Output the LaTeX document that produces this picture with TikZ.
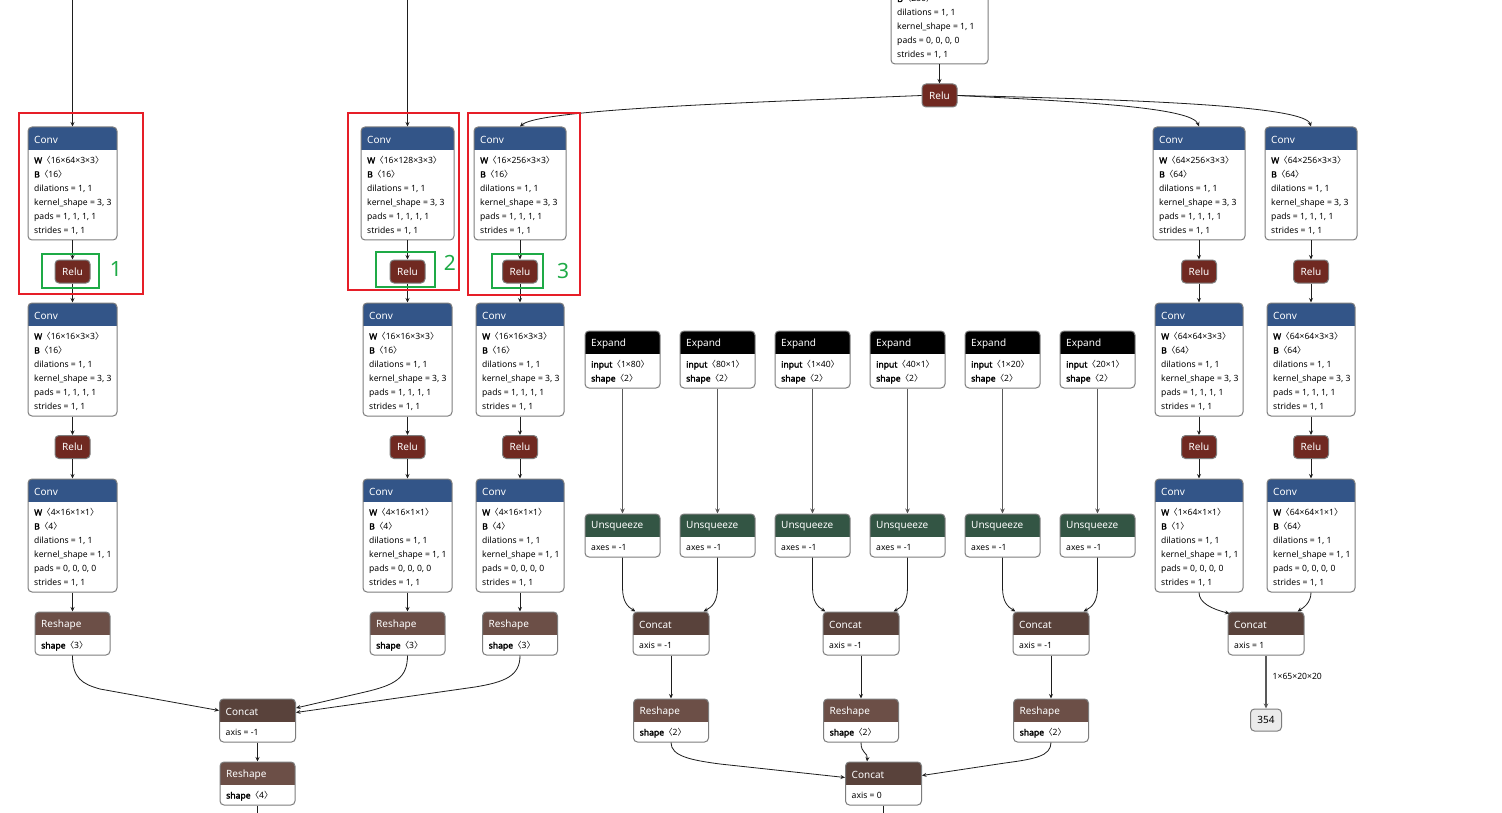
\documentclass[tikz,border=0pt]{standalone}
\usepackage{fontspec}
\setmainfont{Noto Sans}
\newfontfamily\cjk{Noto Sans CJK SC}
\newfontfamily\fbold{Noto Sans}[FakeBold=2.2]
\usetikzlibrary{fit,calc,arrows.meta}
\definecolor{convc}{RGB}{51,85,136}
\definecolor{reluc}{RGB}{112,41,33}
\definecolor{reshc}{RGB}{108,79,71}
\definecolor{catc}{RGB}{89,66,59}
\definecolor{unsqc}{RGB}{51,85,68}
\definecolor{boxb}{RGB}{125,125,125}
\definecolor{edgec}{RGB}{30,30,30}
\definecolor{redb}{RGB}{230,30,40}
\definecolor{greenb}{RGB}{30,170,70}
\tikzset{
  opbox/.style={draw=boxb, line width=1pt, rounded corners=4pt, inner sep=0pt},
  ttl/.style={anchor=west, text=white, inner sep=0pt, font=\fontsize{10}{11}\selectfont},
  atr/.style={anchor=west, inner sep=0pt, text height=6pt, text depth=2pt, font=\fontsize{8.6}{9}\selectfont},
  relu/.style={draw=boxb, line width=1pt, fill=reluc, rounded corners=4pt, text=white, minimum width=35pt, minimum height=23pt, inner sep=0pt, font=\fontsize{10}{11}\selectfont},
  edge/.style={draw=edgec, line width=0.8pt, -{Stealth[length=4.5pt,width=4pt]}},
  plainedge/.style={draw=edgec, line width=0.8pt},
  gedge/.style={draw=black!65, line width=1.3pt, -{Stealth[length=5pt,width=4.5pt]}},
  redbox/.style={draw=redb, line width=1.6pt},
  greenbox/.style={draw=greenb, line width=1.4pt},
  num/.style={text=greenb, inner sep=0pt, font=\fontsize{21}{22}\selectfont},
  lbl/.style={anchor=west, inner sep=0pt, font=\fontsize{8.6}{9}\selectfont},
}
\newcommand{\br}[1]{{\cjk 〈}#1{\cjk 〉}}
\newcommand{\bk}[1]{{\fbold #1}}
\newcommand{\opnode}[7]{%
  \begin{scope}
    \clip[rounded corners=4pt] (#2,#3) rectangle (#4,#5);
    \fill[white] (#2,#3) rectangle (#4,#5);
    \fill[#6] (#2,#3) rectangle (#4,#3+23);
  \end{scope}
  \node[opbox, fit={(#2,#3) (#4,#5)}] (#1) {};
  \node[ttl] at (#2+6,#3+12.5) {#7};
}
\newcommand{\attrs}[3]{%
  \foreach \attrline [count=\ai] in {#3} {
    \node[atr] at (#1+6, #2+34.5+14*\ai-14) {\attrline};
  }
}
\newcommand{\convnode}[8]{%
  \opnode{#1}{#2}{#3}{#4}{#3+113}{convc}{Conv}%
  \attrs{#2}{#3}{{\bk{W}\br{#5}},{\bk{B}\br{#6}},{dilations = 1, 1},{kernel\_shape = #7},{pads = #8},{strides = 1, 1}}%
}
\newcommand{\expnode}[3]{%
  \opnode{#1}{#2}{331}{#2+75}{388}{black}{Expand}%
  \attrs{#2}{331}{{\bk{input}\br{#3}},{\bk{shape}\br{2}}}%
}
\newcommand{\unsqnode}[2]{%
  \opnode{#1}{#2}{514}{#2+75}{557}{unsqc}{Unsqueeze}%
  \attrs{#2}{514}{{axes = -1}}%
}
\newcommand{\catnode}[4]{%
  \opnode{#1}{#2}{#3}{#2+76}{#3+43}{catc}{Concat}%
  \attrs{#2}{#3}{{axis = #4}}%
}
\newcommand{\rsnode}[4]{%
  \opnode{#1}{#2}{#3}{#2+75}{#3+43}{reshc}{Reshape}%
  \attrs{#2}{#3}{{\bk{shape}\br{#4}}}%
}
\begin{document}
\begin{tikzpicture}[x=1pt,y=-1pt]
\useasboundingbox (0,0) rectangle (1502,813);
\clip (0,0) rectangle (1502,813);
\fill[white] (0,0) rectangle (1502,813);

% top partial conv
\opnode{cTop}{891}{-48}{988}{64}{convc}{Conv}
\attrs{891}{-34.5}{{\bk{B}\br{256}},{dilations = 1, 1},{kernel\_shape = 1, 1},{pads = 0, 0, 0, 0},{strides = 1, 1}}
\node[relu] (rTop) at (939.5,95.5) {Relu};

% column A
\convnode{cA1}{28}{127}{117}{16×64×3×3}{16}{3, 3}{1, 1, 1, 1}
\node[relu] (rA1) at (72.5,271.5) {Relu};
\convnode{cA2}{28}{303}{117}{16×16×3×3}{16}{3, 3}{1, 1, 1, 1}
\node[relu] (rA2) at (72.5,447) {Relu};
\convnode{cA3}{28}{479}{117}{4×16×1×1}{4}{1, 1}{0, 0, 0, 0}
\rsnode{sA}{35}{612}{3}

% column B
\convnode{cB1}{361}{127}{454}{16×128×3×3}{16}{3, 3}{1, 1, 1, 1}
\node[relu] (rB1) at (407.5,271.5) {Relu};
\convnode{cB2}{363}{303}{452}{16×16×3×3}{16}{3, 3}{1, 1, 1, 1}
\node[relu] (rB2) at (407.5,447) {Relu};
\convnode{cB3}{363}{479}{452}{4×16×1×1}{4}{1, 1}{0, 0, 0, 0}
\rsnode{sB}{370}{612}{3}

% column C
\convnode{cC1}{474}{127}{566}{16×256×3×3}{16}{3, 3}{1, 1, 1, 1}
\node[relu] (rC1) at (520,271.5) {Relu};
\convnode{cC2}{476}{303}{564}{16×16×3×3}{16}{3, 3}{1, 1, 1, 1}
\node[relu] (rC2) at (520,447) {Relu};
\convnode{cC3}{476}{479}{564}{4×16×1×1}{4}{1, 1}{0, 0, 0, 0}
\rsnode{sC}{482.5}{612}{3}

% bottom left
\catnode{kL}{219.5}{699}{-1}
\rsnode{sL}{220}{762}{4}

% column D
\convnode{cD1}{1153}{127}{1245}{64×256×3×3}{64}{3, 3}{1, 1, 1, 1}
\node[relu] (rD1) at (1199,271.5) {Relu};
\convnode{cD2}{1155}{303}{1243}{64×64×3×3}{64}{3, 3}{1, 1, 1, 1}
\node[relu] (rD2) at (1199,447) {Relu};
\convnode{cD3}{1155}{479}{1243}{1×64×1×1}{1}{1, 1}{0, 0, 0, 0}

% column E
\convnode{cE1}{1265}{127}{1357}{64×256×3×3}{64}{3, 3}{1, 1, 1, 1}
\node[relu] (rE1) at (1311,271.5) {Relu};
\convnode{cE2}{1267}{303}{1355}{64×64×3×3}{64}{3, 3}{1, 1, 1, 1}
\node[relu] (rE2) at (1311,447) {Relu};
\convnode{cE3}{1267}{479}{1355}{64×64×1×1}{64}{1, 1}{0, 0, 0, 0}

\catnode{kR}{1228}{612}{1}
\node[draw=boxb, fill=black!8, line width=1pt, rounded corners=4pt, minimum width=31pt, minimum height=22pt, inner sep=0pt, font=\fontsize{10}{11}\selectfont] (n354) at (1266,720) {354};

% expand / unsqueeze
\expnode{e1}{585}{1×80}
\expnode{e2}{680}{80×1}
\expnode{e3}{775}{1×40}
\expnode{e4}{870}{40×1}
\expnode{e5}{965}{1×20}
\expnode{e6}{1060}{20×1}
\unsqnode{u1}{585}
\unsqnode{u2}{680}
\unsqnode{u3}{775}
\unsqnode{u4}{870}
\unsqnode{u5}{965}
\unsqnode{u6}{1060}
\catnode{k1}{633}{612}{-1}
\catnode{k2}{823}{612}{-1}
\catnode{k3}{1013}{612}{-1}
\rsnode{s1}{633.5}{699}{2}
\rsnode{s2}{823.5}{699}{2}
\rsnode{s3}{1013.5}{699}{2}
\catnode{kF}{845.5}{762}{0}

% free ends
\coordinate (inA) at (72.5,0);
\coordinate (inB) at (407.5,0);
\coordinate (outL) at (257.5,813);
\coordinate (outF) at (883.5,813);

% edges column A/B/C
\draw[edge] (inA) -- (cA1);
\draw[edge] (inB) -- (cB1);
\foreach \c in {A,B,C,D,E} {
  \draw[edge] (c\c1) -- (r\c1);
  \draw[edge] (r\c1) -- (c\c2);
  \draw[edge] (c\c2) -- (r\c2);
  \draw[edge] (r\c2) -- (c\c3);
}
\draw[edge] (cA3) -- (sA);
\draw[edge] (cB3) -- (sB);
\draw[edge] (cC3) -- (sC);
\draw[edge] (cTop) -- (rTop);
\draw[edge] (rTop.west) .. controls (760,102) and (540,109) .. (cC1.north);
\draw[edge] (rTop.east) .. controls (1090,102) and (1192,108) .. (cD1.north);
\draw[edge] (rTop.east) .. controls (1160,100) and (1305,107) .. (cE1.north);

\draw[edge] (sA.south) .. controls (72.5,678) and (82,684) .. (100,689) -- ($(kL.north west)+(0,12)$);
\draw[edge] (sB.south) .. controls (407.5,678) and (395,685) .. (365,692) -- ($(kL.north east)+(0,9.5)$);
\draw[edge] (sC.south) .. controls (520,676) and (505,682) .. (475,687) -- ($(kL.north east)+(0,14)$);
\draw[edge] (kL) -- (sL);
\draw[plainedge] (sL) -- (outL);

% expand to unsqueeze
\foreach \i in {1,...,6} { \draw[gedge] (e\i) -- (u\i); }
% unsqueeze to concat
\draw[edge] (u1.south) -- ++(0,30) .. controls (622.5,602) and (628,607) .. ($(k1.north west)+(3,0)$);
\draw[edge] (u2.south) -- ++(0,30) .. controls (717.5,602) and (712,607) .. ($(k1.north east)+(-6,0)$);
\draw[edge] (u3.south) -- ++(0,30) .. controls (812.5,602) and (818,607) .. ($(k2.north west)+(3,0)$);
\draw[edge] (u4.south) -- ++(0,30) .. controls (907.5,602) and (902,607) .. ($(k2.north east)+(-6,0)$);
\draw[edge] (u5.south) -- ++(0,30) .. controls (1002.5,602) and (1008,607) .. ($(k3.north west)+(3,0)$);
\draw[edge] (u6.south) -- ++(0,30) .. controls (1097.5,602) and (1092,607) .. ($(k3.north east)+(-6,0)$);
\draw[edge] (k1) -- (s1);
\draw[edge] (k2) -- (s2);
\draw[edge] (k3) -- (s3);
\draw[edge] (s1.south) .. controls (671,756) and (690,760) .. (720,764) -- ($(kF.north west)+(0,16)$);
\draw[edge] (s2.south) .. controls (861,754) and (868,752) .. ($(kF.north west)+(22,0)$);
\draw[edge] (s3.south) .. controls (1051,756) and (1035,759) .. (1005,763) -- ($(kF.north east)+(0,14)$);
\draw[plainedge] (kF) -- (outF);

% right concat
\draw[edge] (cD3.south) .. controls (1199,603) and (1212,609) .. ($(kR.north west)+(2,2)$);
\draw[edge] (cE3.south) .. controls (1311,603) and (1303,608) .. ($(kR.north east)+(-7,0)$);
\draw[gedge] (kR) -- node[lbl, pos=0.4, xshift=6pt] {1×65×20×20} (n354);

% annotations
\draw[redbox] (19,113) rectangle (143,294);
\draw[redbox] (348,113) rectangle (459,290);
\draw[redbox] (468,113) rectangle (580,295);
\draw[greenbox] (42,254) rectangle (99,288);
\draw[greenbox] (376,252) rectangle (435,287);
\draw[greenbox] (492,254) rectangle (543,288);
\node[num] at (116,269) {1};
\node[num] at (450,263) {2};
\node[num] at (563,271) {3};
\end{tikzpicture}
\end{document}
